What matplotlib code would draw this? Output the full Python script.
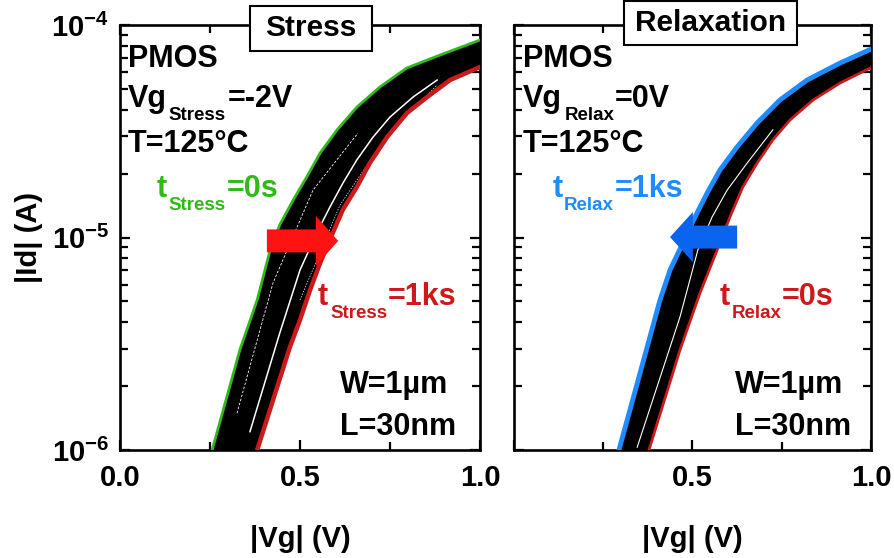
import matplotlib
matplotlib.use("Agg")
import matplotlib.pyplot as plt
from matplotlib.patches import Rectangle, Polygon
from matplotlib.ticker import FixedLocator, LogLocator, NullFormatter
import numpy as np

plt.rcParams['font.family'] = ['Liberation Sans', 'DejaVu Sans']
plt.rcParams['font.weight'] = 'bold'
plt.rcParams['axes.labelweight'] = 'bold'
plt.rcParams['mathtext.fontset'] = 'custom'
plt.rcParams['mathtext.rm'] = 'Liberation Sans:bold'
plt.rcParams['mathtext.bf'] = 'Liberation Sans:bold'
plt.rcParams['mathtext.it'] = 'Liberation Sans:bold'

# --- stress panel: Id-Vg before (0 s) and after (1 ks) stress ---
vg_stress0 = [0.240, 0.256, 0.333, 0.381, 0.417, 0.444, 0.481, 0.519, 0.556, 0.603,
              0.658, 0.722, 0.797, 0.889, 1.000]
id_stress0 = [0.80e-6, 1.00e-6, 2.96e-6, 5.08e-6, 8.73e-6, 1.15e-5, 1.50e-5, 1.93e-5,
              2.50e-5, 3.21e-5, 4.11e-5, 5.11e-5, 6.28e-5, 7.22e-5, 8.50e-5]
vg_stress1 = [0.365, 0.381, 0.472, 0.500, 0.528, 0.556, 0.592, 0.619, 0.658, 0.694,
              0.742, 0.797, 0.853, 0.917, 1.000]
id_stress1 = [0.80e-6, 1.00e-6, 3.05e-6, 4.09e-6, 5.66e-6, 7.59e-6, 1.06e-5, 1.35e-5,
              1.73e-5, 2.24e-5, 2.97e-5, 3.85e-5, 4.58e-5, 5.51e-5, 6.34e-5]
# gaps between the intermediate stress traces
vg_gap_a = [0.361, 0.444, 0.500, 0.550, 0.583, 0.619, 0.658, 0.703, 0.750, 0.814, 0.881]
id_gap_a = [1.22e-6, 3.56e-6, 7.03e-6, 1.08e-5, 1.39e-5, 1.80e-5, 2.32e-5, 2.97e-5,
            3.69e-5, 4.58e-5, 5.51e-5]
vg_gap_b = [0.325, 0.425, 0.536, 0.661]
id_gap_b = [1.49e-6, 6.11e-6, 1.67e-5, 3.10e-5]
vg_gap_c = [0.500, 0.611, 0.742, 0.881]
id_gap_c = [5.08e-6, 1.42e-5, 3.03e-5, 5.22e-5]

# --- relaxation panel: recovery from 0 s to 1 ks ---
vg_relax1 = [0.280, 0.294, 0.353, 0.409, 0.437, 0.473, 0.507, 0.541, 0.577, 0.625,
             0.681, 0.745, 0.821, 0.913, 1.000]
id_relax1 = [0.80e-6, 1.00e-6, 2.30e-6, 5.08e-6, 7.03e-6, 9.42e-6, 1.25e-5, 1.62e-5,
             2.08e-5, 2.67e-5, 3.46e-5, 4.44e-5, 5.51e-5, 6.62e-5, 7.70e-5]
vg_relax0 = [0.362, 0.378, 0.465, 0.521, 0.569, 0.605, 0.641, 0.681, 0.725, 0.773,
             0.838, 0.913, 1.000]
id_relax0 = [0.80e-6, 1.00e-6, 2.96e-6, 5.48e-6, 8.73e-6, 1.25e-5, 1.73e-5, 2.24e-5,
             2.88e-5, 3.57e-5, 4.44e-5, 5.33e-5, 6.30e-5]
vg_gap_r = [0.345, 0.465, 0.515, 0.555, 0.597, 0.653, 0.725]
id_gap_r = [1.03e-6, 4.23e-6, 8.73e-6, 1.25e-5, 1.67e-5, 2.24e-5, 3.21e-5]

x_ticks = [0.0, 0.5, 1.0]
x_minor = [0.25, 0.75]
y_ticks = [1e-6, 1e-5, 1e-4]
y_labels = [r'$10^{-6}$', r'$10^{-5}$', r'$10^{-4}$']

GREEN = '#33b81a'
RED = '#cc1a1a'
BLUE = '#1e8cff'
W, H = 895, 558

fig = plt.figure(figsize=(W / 100, H / 100), dpi=100)
ax1 = fig.add_axes([120 / W, 108 / H, 360 / W, 425 / H])
ax2 = fig.add_axes([514 / W, 108 / H, 357 / W, 425 / H])


def style_axes(ax, xlabels, show_y):
    ax.set_yscale('log')
    ax.set_xlim(0, 1.0)
    ax.set_ylim(1e-6, 1e-4)
    ax.set_xticks(x_ticks)
    ax.set_xticklabels(xlabels)
    ax.xaxis.set_minor_locator(FixedLocator(x_minor))
    ax.set_yticks(y_ticks)
    ax.set_yticklabels(y_labels if show_y else ['', '', ''])
    ax.yaxis.set_minor_locator(LogLocator(base=10, subs=np.arange(2, 10)))
    ax.yaxis.set_minor_formatter(NullFormatter())
    ax.tick_params(which='both', direction='in', top=True, right=True, width=1.6)
    ax.tick_params(which='major', length=7, labelsize=21, pad=10)
    ax.tick_params(axis='y', which='major', pad=8)
    ax.tick_params(which='minor', length=5.5)
    for s in ax.spines.values():
        s.set_linewidth(1.9)
    ax.set_xlabel('|Vg| (V)', fontsize=21, labelpad=24)


def band(ax, xa, ya, xb, yb):
    # black envelope of all intermediate traces
    ax.fill(np.concatenate([xa, xb[::-1]]), np.concatenate([ya, yb[::-1]]),
            color='black', lw=0, zorder=2)


band(ax1, vg_stress0, id_stress0, vg_stress1, id_stress1)
ax1.plot(vg_gap_a, id_gap_a, color='white', lw=1.1, zorder=3)
ax1.plot(vg_gap_b, id_gap_b, color='white', lw=0.6, ls=(0, (3, 2)), zorder=3)
ax1.plot(vg_gap_c, id_gap_c, color='white', lw=0.5, ls=(0, (2, 2)), zorder=3)
ax1.plot(vg_stress0, id_stress0, color=GREEN, lw=2.0, zorder=4)
ax1.plot(vg_stress1, id_stress1, color=RED, lw=3.2, zorder=4)
style_axes(ax1, ['0.0', '0.5', '1.0'], True)
ax1.set_ylabel('|Id| (A)', fontsize=21, labelpad=6)

band(ax2, vg_relax1, id_relax1, vg_relax0, id_relax0)
ax2.plot(vg_gap_r, id_gap_r, color='white', lw=0.8, zorder=3)
ax2.plot(vg_relax0, id_relax0, color=RED, lw=2.0, zorder=4)
ax2.plot(vg_relax1, id_relax1, color=BLUE, lw=3.5, zorder=4)
style_axes(ax2, ['', '0.5', '1.0'], False)

# arrows showing the shift direction
ax1.add_patch(Polygon([(0.408, 0.465), (0.544, 0.465), (0.544, 0.433), (0.606, 0.492),
                       (0.544, 0.551), (0.544, 0.519), (0.408, 0.519)],
                      closed=True, transform=ax1.transAxes, color='#ff1212', lw=0, zorder=5))
ax2.add_patch(Polygon([(0.625, 0.474), (0.501, 0.474), (0.501, 0.442), (0.437, 0.501),
                       (0.501, 0.560), (0.501, 0.528), (0.625, 0.528)],
                      closed=True, transform=ax2.transAxes, color='#0a64f0', lw=0, zorder=5))

# title boxes sitting on the top spine
for ax, x0, x1, y0, y1, name in [(ax1, 0.361, 0.700, 0.939, 1.045, 'Stress'),
                                 (ax2, 0.308, 0.793, 0.953, 1.056, 'Relaxation')]:
    ax.add_patch(Rectangle((x0, y0), x1 - x0, y1 - y0, transform=ax.transAxes,
                           fc='white', ec='black', lw=1.5, clip_on=False, zorder=6))
    ax.text((x0 + x1) / 2, (y0 + y1) / 2, name, transform=ax.transAxes, ha='center',
            va='center', fontsize=21.5, zorder=7)


def put(px, py, s, size=22, color='black'):
    fig.text(px / W, 1 - py / H, s, fontsize=size, color=color, va='baseline', ha='left')


def sub_label(px, py, main, sub, rest, sub_x, rest_x, color='black'):
    put(px, py, main, color=color)
    put(sub_x, py + 13, sub, size=13.5, color=color)
    put(rest_x, py, rest, color=color)


put(128, 67, 'PMOS')
sub_label(128, 107, 'Vg', 'Stress', '=-2V', 168, 228)
put(128, 152, 'T=125°C')
sub_label(157, 197, 't', 'Stress', '=0s', 168, 227, color=GREEN)
sub_label(318, 305, 't', 'Stress', '=1ks', 330, 388, color=RED)
put(340, 393, 'W=1µm')
put(340, 435, 'L=30nm')

put(523, 67, 'PMOS')
sub_label(523, 107, 'Vg', 'Relax', '=0V', 565, 615)
put(523, 152, 'T=125°C')
sub_label(553, 197, 't', 'Relax', '=1ks', 564, 615, color=BLUE)
sub_label(720, 305, 't', 'Relax', '=0s', 732, 782, color=RED)
put(735, 393, 'W=1µm')
put(735, 435, 'L=30nm')

plt.savefig('out.png', dpi=100)
